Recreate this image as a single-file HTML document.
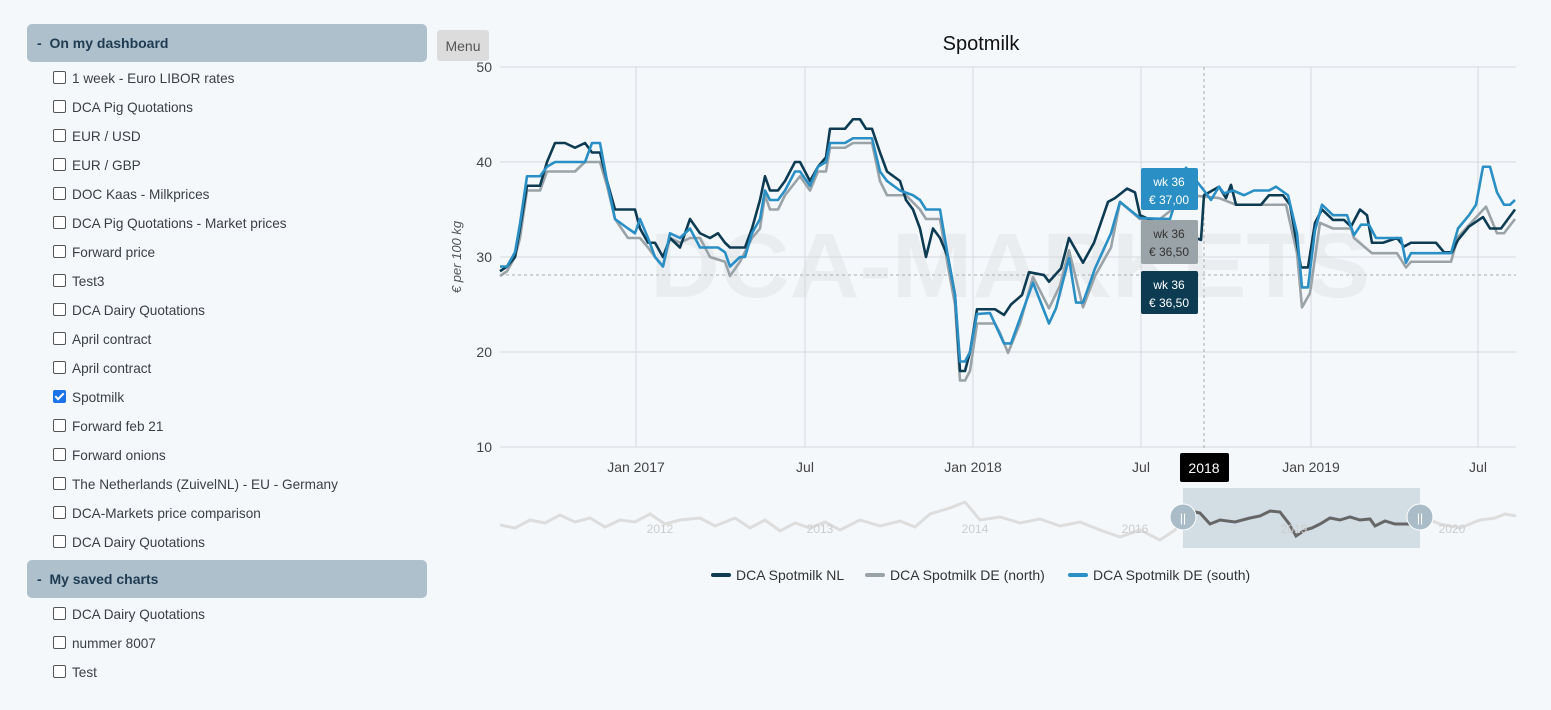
<!DOCTYPE html>
<html><head><meta charset="utf-8"><style>
body{margin:0;width:1551px;height:710px;background:#f5f8fb;font-family:"Liberation Sans",sans-serif;position:relative;overflow:hidden}
.hd{position:absolute;left:27px;width:400px;height:38px;background:#adc0cb;border-radius:5px;color:#1f3b52;font-weight:bold;font-size:14px;line-height:38px;box-sizing:border-box;padding-left:10px}
.it{position:absolute;left:53px;font-size:13.6px;color:#3a3f44;line-height:18px}
.cb{display:inline-block;width:11px;height:11px;border:1px solid #555;border-radius:2px;background:#fff;vertical-align:-1px;margin-right:6px}
.cb.on{background:#1a73e8;border-color:#1a73e8;position:relative}
.cb.on:after{content:"";position:absolute;left:3px;top:0px;width:3px;height:7px;border:solid #fff;border-width:0 2px 2px 0;transform:rotate(45deg)}
</style></head><body>
<div class="hd" style="top:24px">-&nbsp; On my dashboard</div>
<div class="it" style="top:70px"><span class="cb"></span>1 week - Euro LIBOR rates</div>
<div class="it" style="top:99px"><span class="cb"></span>DCA Pig Quotations</div>
<div class="it" style="top:128px"><span class="cb"></span>EUR / USD</div>
<div class="it" style="top:157px"><span class="cb"></span>EUR / GBP</div>
<div class="it" style="top:186px"><span class="cb"></span>DOC Kaas - Milkprices</div>
<div class="it" style="top:215px"><span class="cb"></span>DCA Pig Quotations - Market prices</div>
<div class="it" style="top:244px"><span class="cb"></span>Forward price</div>
<div class="it" style="top:273px"><span class="cb"></span>Test3</div>
<div class="it" style="top:302px"><span class="cb"></span>DCA Dairy Quotations</div>
<div class="it" style="top:331px"><span class="cb"></span>April contract</div>
<div class="it" style="top:360px"><span class="cb"></span>April contract</div>
<div class="it" style="top:389px"><span class="cb on"></span>Spotmilk</div>
<div class="it" style="top:418px"><span class="cb"></span>Forward feb 21</div>
<div class="it" style="top:447px"><span class="cb"></span>Forward onions</div>
<div class="it" style="top:476px"><span class="cb"></span>The Netherlands (ZuivelNL) - EU - Germany</div>
<div class="it" style="top:505px"><span class="cb"></span>DCA-Markets price comparison</div>
<div class="it" style="top:534px"><span class="cb"></span>DCA Dairy Quotations</div>
<div class="hd" style="top:560px">-&nbsp; My saved charts</div>
<div class="it" style="top:606px"><span class="cb"></span>DCA Dairy Quotations</div>
<div class="it" style="top:635px"><span class="cb"></span>nummer 8007</div>
<div class="it" style="top:664px"><span class="cb"></span>Test</div>

<svg style="position:absolute;left:0;top:0" width="1551" height="710" font-family="Liberation Sans, sans-serif">
<rect x="437" y="30" width="52" height="31" rx="3" fill="#dcdcdc"/>
<text x="463" y="51" font-size="14" fill="#555" text-anchor="middle">Menu</text>
<text x="981" y="50" font-size="20" fill="#111" text-anchor="middle">Spotmilk</text>
<text x="1010" y="297" font-size="92" font-weight="bold" fill="#eaedf0" text-anchor="middle" textLength="720" lengthAdjust="spacingAndGlyphs">DCA-MARKETS</text>
<g stroke="#d5d9dd" stroke-width="1">
<line x1="500" y1="67" x2="1516" y2="67"/><line x1="500" y1="162" x2="1516" y2="162"/><line x1="500" y1="257" x2="1516" y2="257"/><line x1="500" y1="352" x2="1516" y2="352"/><line x1="500" y1="447" x2="1516" y2="447"/>
<line x1="636" y1="67" x2="636" y2="447"/><line x1="805" y1="67" x2="805" y2="447"/><line x1="973" y1="67" x2="973" y2="447"/><line x1="1141" y1="67" x2="1141" y2="447"/><line x1="1311" y1="67" x2="1311" y2="447"/><line x1="1478" y1="67" x2="1478" y2="447"/>
</g>
<g font-size="14" fill="#444" text-anchor="end">
<text x="492" y="72">50</text><text x="492" y="167">40</text><text x="492" y="262">30</text><text x="492" y="357">20</text><text x="492" y="452">10</text></g>
<g font-size="14" fill="#444" text-anchor="middle">
<text x="636" y="472">Jan 2017</text><text x="805" y="472">Jul</text><text x="973" y="472">Jan 2018</text><text x="1141" y="472">Jul</text><text x="1311" y="472">Jan 2019</text><text x="1478" y="472">Jul</text></g>
<text transform="translate(461,257) rotate(-90)" font-size="13" font-style="italic" fill="#555" text-anchor="middle">€ per 100 kg</text>
<line x1="500" y1="275" x2="1516" y2="275" stroke="#aaa" stroke-dasharray="3,3"/>
<line x1="1204" y1="67" x2="1204" y2="450" stroke="#aaa" stroke-dasharray="3,3"/>
<g transform="translate(0,542) scale(1,-9.5)" fill="none" stroke-width="2.6" stroke-linejoin="round">
<polyline vector-effect="non-scaling-stroke" stroke="#9aa3a8" points="500,28 507,28.5 515,30 520,32 527,37 540,37 547,39 555,39 575,39 585,40 600,40 607,37.5 615,34 628,32 640,32 648,31 655,30 663,29 670,32 680,31.5 690,32 700,32 710,30 725,29.5 730,28 740,29.5 752,32 760,33 765,36.5 770,35 778,35 785,36.5 800,38.5 810,37 818,39 826,39 830,41.5 845,41.5 853,42 872,42 880,38 887,36.5 906,36.5 920,35 926,34 940,34 948,29 955,25 960,17 965,17 970,18 977,23 995,23 1000,22 1008,19.9 1020,23 1033,27.9 1049,24.6 1060,27 1069,30.7 1083,24.7 1095,28 1111,31 1120,35.8 1140,34 1160,34 1190,36.5 1219,36.2 1236,35.5 1286,35.5 1297,30.4 1302,24.7 1310,26.2 1320,33.6 1333,33 1351,33 1354,32 1372,30.4 1397,30.4 1406,28.9 1411,29.5 1451,29.5 1458,32.1 1486,35.3 1497,32.5 1504,32.5 1515,34"/>
<polyline vector-effect="non-scaling-stroke" stroke="#0d3b52" points="500,28.5 507,29 515,30 520,33 527,37.5 540,37.5 547,40 555,42 565,42 575,41.5 585,42 592,41 600,41 607,38 615,35 635,35 640,33 648,31.5 655,31.5 663,30 670,32 680,31 690,34 700,32.5 710,32 718,32.5 725,31.5 730,31 745,31 752,33 760,36 765,38.5 770,37 778,37 785,38 795,40 800,40 810,38 818,39.5 826,40.5 830,43.5 845,43.5 853,44.5 860,44.5 866,43.5 872,43.5 880,41 887,39 900,38 906,36 913,35 920,33 926,30 933,33 940,32 948,30 955,26 960,18 965,18 970,20 977,24.5 995,24.5 1004,23.9 1011,25 1022,26 1029,28.4 1044,28.1 1049,27.4 1061,28.8 1069,32 1083,29.4 1094,31.5 1108,35.8 1115,36.2 1127,37.2 1135,36.8 1140,34.4 1170,33 1201,31.8 1204,36.5 1219,37.4 1226,36.2 1231,37.6 1236,35.5 1261,35.5 1269,36.5 1283,36.5 1290,35.5 1301,28.9 1308,28.9 1315,33.6 1322,35 1333,33.9 1344,33.9 1351,33.2 1360,35 1367,34.4 1372,31.5 1383,31.5 1397,32 1404,31.1 1411,31.5 1436,31.5 1444,30.5 1452,30.5 1458,31.8 1469,33.2 1483,34.2 1490,33 1501,33 1515,35"/>
<polyline vector-effect="non-scaling-stroke" stroke="#2a8fc4" points="500,29 507,29 515,30.5 520,33.5 527,38.5 540,38.5 547,39.5 555,40 585,40 592,42 600,42 607,38 615,34 628,33 635,32.5 640,34 648,32 655,30 663,29 670,32.5 680,32 690,33 700,31 718,31 725,30.5 730,29 740,30 745,30 752,32.5 760,34 765,37 770,36 778,36 785,37 795,39 800,39 810,37.5 818,39.5 826,40 830,42 845,42 853,42.5 872,42.5 880,39 887,38 900,37 913,36.5 920,36 926,35 940,35 948,30 955,26 960,19 965,19 970,20 977,24 990,24.1 1004,20.9 1011,20.9 1033,27.3 1049,23 1056,24.6 1069,29.9 1076,25.2 1083,25.2 1095,28.8 1111,32.5 1120,35.8 1127,35.2 1140,34.1 1170,34 1186,39.4 1204,37 1211,36 1219,37.4 1224,36.7 1233,37 1244,36.5 1254,37 1269,37 1276,37.4 1288,36.5 1297,32.5 1302,26.8 1308,26.8 1315,32.8 1322,35.5 1333,34.4 1347,34.4 1354,32.3 1361,33.4 1369,33.4 1376,32 1401,32 1406,29.4 1411,30.4 1451,30.4 1458,33 1469,34.4 1476,35.5 1483,39.5 1490,39.5 1497,36.8 1504,35.5 1510,35.5 1515,36"/>
</g>
<rect x="1141" y="168" width="57" height="42" rx="2" fill="#2a8fc4"/>
<text x="1169" y="186" font-size="12" fill="#fff" text-anchor="middle">wk 36</text><text x="1169" y="204" font-size="12" fill="#fff" text-anchor="middle">€ 37,00</text>
<rect x="1141" y="220" width="57" height="44" rx="2" fill="#9aa3a8"/>
<text x="1169" y="238" font-size="12" fill="#333" text-anchor="middle">wk 36</text><text x="1169" y="256" font-size="12" fill="#333" text-anchor="middle">€ 36,50</text>
<rect x="1141" y="271" width="57" height="43" rx="2" fill="#0d3b52"/>
<text x="1169" y="289" font-size="12" fill="#fff" text-anchor="middle">wk 36</text><text x="1169" y="307" font-size="12" fill="#fff" text-anchor="middle">€ 36,50</text>
<rect x="1180" y="453" width="49" height="29" rx="2" fill="#000"/>
<text x="1204" y="473" font-size="14" fill="#fff" text-anchor="middle">2018</text>
<rect x="1183" y="488" width="237" height="60" fill="#d3dde4"/>
<polyline fill="none" stroke="#ddd" stroke-width="3" points="500,525 515,528 530,520 545,523 560,515 575,522 590,518 605,527 620,520 635,522 650,514 665,524 680,520 700,518 715,526 735,518 750,528 765,520 780,531 795,523 810,528 825,522 840,530 860,520 880,526 900,521 915,527 930,514 950,508 965,502 980,520 1000,517 1020,523 1040,519 1060,526 1080,522 1100,530 1120,537 1140,530 1160,540 1175,530 1183,516"/>
<polyline fill="none" stroke="#666" stroke-width="3" points="1190,511 1200,513 1210,524 1220,520 1235,522 1250,518 1260,516 1270,511 1280,512 1290,525 1296,536 1305,530 1312,528 1320,524 1330,518 1340,520 1350,517 1360,520 1370,519 1375,526 1385,521 1395,524 1410,524"/>
<polyline fill="none" stroke="#ddd" stroke-width="3" points="1420,516 1440,524 1460,528 1480,520 1495,518 1505,514 1516,516"/>
<g font-size="12" fill="#ccc" text-anchor="middle"><text x="660" y="533">2012</text><text x="820" y="533">2013</text><text x="975" y="533">2014</text><text x="1135" y="533">2016</text><text x="1294" y="533">2019</text><text x="1452" y="533">2020</text></g>
<circle cx="1183" cy="517" r="13" fill="#a9bcc8" stroke="#fff"/><text x="1183" y="522" font-size="12" fill="#fff" text-anchor="middle">||</text>
<circle cx="1420" cy="517" r="13" fill="#a9bcc8" stroke="#fff"/><text x="1420" y="522" font-size="12" fill="#fff" text-anchor="middle">||</text>
<g font-size="14" fill="#333">
<rect x="711" y="573" width="20" height="4" rx="2" fill="#0d3b52"/><text x="736" y="580">DCA Spotmilk NL</text>
<rect x="865" y="573" width="20" height="4" rx="2" fill="#9aa3a8"/><text x="890" y="580">DCA Spotmilk DE (north)</text>
<rect x="1068" y="573" width="20" height="4" rx="2" fill="#2a8fc4"/><text x="1093" y="580">DCA Spotmilk DE (south)</text>
</g>
</svg>
</body></html>
